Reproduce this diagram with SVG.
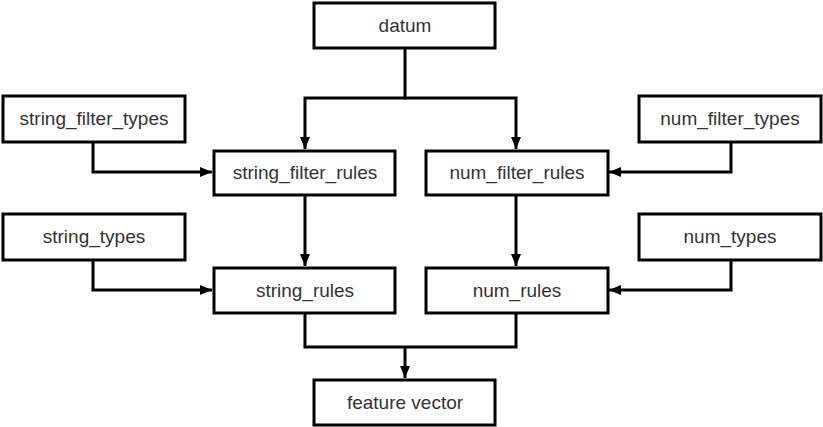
<svg xmlns="http://www.w3.org/2000/svg" width="823" height="427" viewBox="0 0 823 427">
<defs>
<marker id="arr" viewBox="0 0 12 10" refX="12" refY="5" markerWidth="12" markerHeight="10" markerUnits="userSpaceOnUse" orient="auto">
<path d="M0,0 L12,5 L0,10 Z" fill="#000"/>
</marker>
<style>
.box{fill:#fff;stroke:#000;stroke-width:3}
.lbl{font-family:"Liberation Sans",Arial,sans-serif;font-size:19px;fill:#333;text-anchor:middle}
.con{fill:none;stroke:#000;stroke-width:3}
</style>
</defs>
<rect width="823" height="427" fill="#fff"/>
<g id="connectors">
<path class="con" d="M405,48 V98 H305 V149" marker-end="url(#arr)"/>
<path class="con" d="M405,98 H516 V149" marker-end="url(#arr)"/>
<path class="con" d="M93,142 V172 H212" marker-end="url(#arr)"/>
<path class="con" d="M731,142 V172 H609" marker-end="url(#arr)"/>
<path class="con" d="M305,195 V266" marker-end="url(#arr)"/>
<path class="con" d="M516,195 V266" marker-end="url(#arr)"/>
<path class="con" d="M93,260 V290 H212" marker-end="url(#arr)"/>
<path class="con" d="M731,260 V290 H609" marker-end="url(#arr)"/>
<path class="con" d="M305,313 V347 H516 V313"/>
<path class="con" d="M405,347 V378" marker-end="url(#arr)"/>
</g>
<g id="datum"><rect class="box" x="314" y="3" width="181" height="45"/><text class="lbl" x="405" y="32">datum</text></g>
<g id="string_filter_types"><rect class="box" x="3" y="96" width="182" height="46"/><text class="lbl" x="94" y="125">string_filter_types</text></g>
<g id="num_filter_types"><rect class="box" x="639" y="96" width="182" height="46"/><text class="lbl" x="730" y="125">num_filter_types</text></g>
<g id="string_filter_rules"><rect class="box" x="214" y="151" width="181" height="44"/><text class="lbl" x="305" y="179">string_filter_rules</text></g>
<g id="num_filter_rules"><rect class="box" x="426" y="151" width="182" height="44"/><text class="lbl" x="517" y="179">num_filter_rules</text></g>
<g id="string_types"><rect class="box" x="3" y="214" width="182" height="46"/><text class="lbl" x="94" y="243">string_types</text></g>
<g id="num_types"><rect class="box" x="639" y="214" width="182" height="46"/><text class="lbl" x="730" y="243">num_types</text></g>
<g id="string_rules"><rect class="box" x="214" y="268" width="181" height="45"/><text class="lbl" x="305" y="297">string_rules</text></g>
<g id="num_rules"><rect class="box" x="426" y="268" width="182" height="45"/><text class="lbl" x="517" y="297">num_rules</text></g>
<g id="feature_vector"><rect class="box" x="314" y="380" width="181" height="45"/><text class="lbl" x="405" y="409">feature vector</text></g>
</svg>
